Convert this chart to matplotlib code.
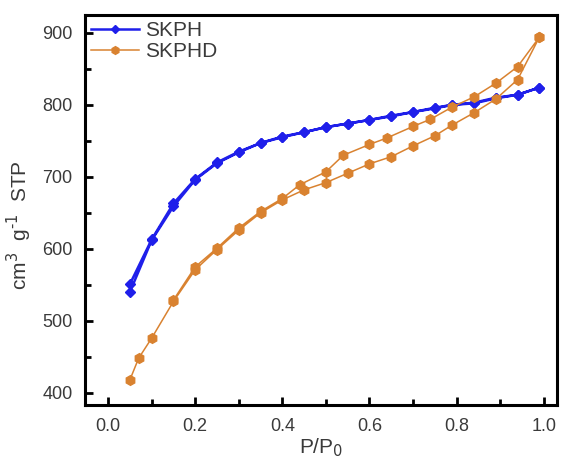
import matplotlib.pyplot as plt
from matplotlib.ticker import MultipleLocator

plt.rcParams['font.family'] = ['Liberation Sans', 'DejaVu Sans']

# SKPH isotherm (adsorption then desorption)
skph_ads_x = [0.05, 0.10, 0.15, 0.20, 0.25, 0.30, 0.35, 0.40, 0.45, 0.50, 0.55,
              0.60, 0.65, 0.70, 0.75, 0.79, 0.84, 0.89, 0.94, 0.99]
skph_ads_y = [540, 612, 659, 696, 719, 734, 747, 755, 762, 769, 774,
              779, 784, 790, 796, 800, 803, 810, 814, 824]
skph_des_x = [0.99, 0.94, 0.89, 0.84, 0.79, 0.75, 0.70, 0.65, 0.60, 0.55, 0.50,
              0.45, 0.40, 0.35, 0.30, 0.25, 0.20, 0.15, 0.10, 0.05]
skph_des_y = [824, 814, 809, 802, 800, 795, 790, 785, 779, 774, 769,
              762, 756, 747, 735, 720, 697, 663, 613, 551]

# SKPHD isotherm
skphd_ads_x = [0.05, 0.07, 0.10, 0.15, 0.20, 0.25, 0.30, 0.35, 0.40, 0.45, 0.50,
               0.55, 0.60, 0.65, 0.70, 0.75, 0.79, 0.84, 0.89, 0.94, 0.99]
skphd_ads_y = [418, 448, 476, 527, 571, 599, 626, 650, 668, 682, 692,
               705, 718, 728, 743, 757, 772, 789, 808, 835, 894]
skphd_des_x = [0.99, 0.94, 0.89, 0.84, 0.79, 0.74, 0.70, 0.64, 0.60, 0.54, 0.50,
               0.44, 0.40, 0.35, 0.30, 0.25, 0.20, 0.15]
skphd_des_y = [894, 853, 830, 811, 797, 780, 770, 754, 745, 730, 707,
               689, 670, 652, 629, 601, 575, 529]

blue = '#1F1FEA'
orange = '#D98230'
txt = '#3A3A3A'

fig = plt.figure(figsize=(5.63, 4.63), dpi=100)
ax = fig.add_axes([0.151, 0.125, 0.838, 0.843])

ax.plot(skph_ads_x + skph_des_x, skph_ads_y + skph_des_y, color=blue, lw=1.8,
        marker='D', ms=5.5, label='SKPH')
ax.plot(skphd_ads_x + skphd_des_x, skphd_ads_y + skphd_des_y, color=orange, lw=1.1,
        marker='h', ms=7, label='SKPHD')

ax.set_xlim(-0.053, 1.03)
ax.set_ylim(383, 925)
ax.xaxis.set_major_locator(MultipleLocator(0.2))
ax.xaxis.set_minor_locator(MultipleLocator(0.1))
ax.yaxis.set_major_locator(MultipleLocator(100))
ax.yaxis.set_minor_locator(MultipleLocator(50))
ax.tick_params(which='both', direction='in', width=2, colors='black',
               labelcolor=txt, labelsize=13, top=False, right=False)
ax.tick_params(which='major', length=6, pad=9)
ax.tick_params(which='minor', length=4)
for s in ax.spines.values():
    s.set_linewidth(2.2)

ax.set_xlabel('P/P$_0$', fontsize=15, color=txt, labelpad=1)
ax.set_ylabel('cm$^3$  g$^{\\text{-}1}$  STP', fontsize=15, color=txt)
ax.yaxis.set_label_coords(-0.108, 0.46)

ax.legend(loc='upper left', frameon=False, fontsize=15, handlelength=2.3,
          handletextpad=0.3, borderaxespad=0.1, borderpad=0.2, labelspacing=0.1,
          labelcolor=txt, markerscale=0.8)

fig.savefig('out.png', dpi=100)
